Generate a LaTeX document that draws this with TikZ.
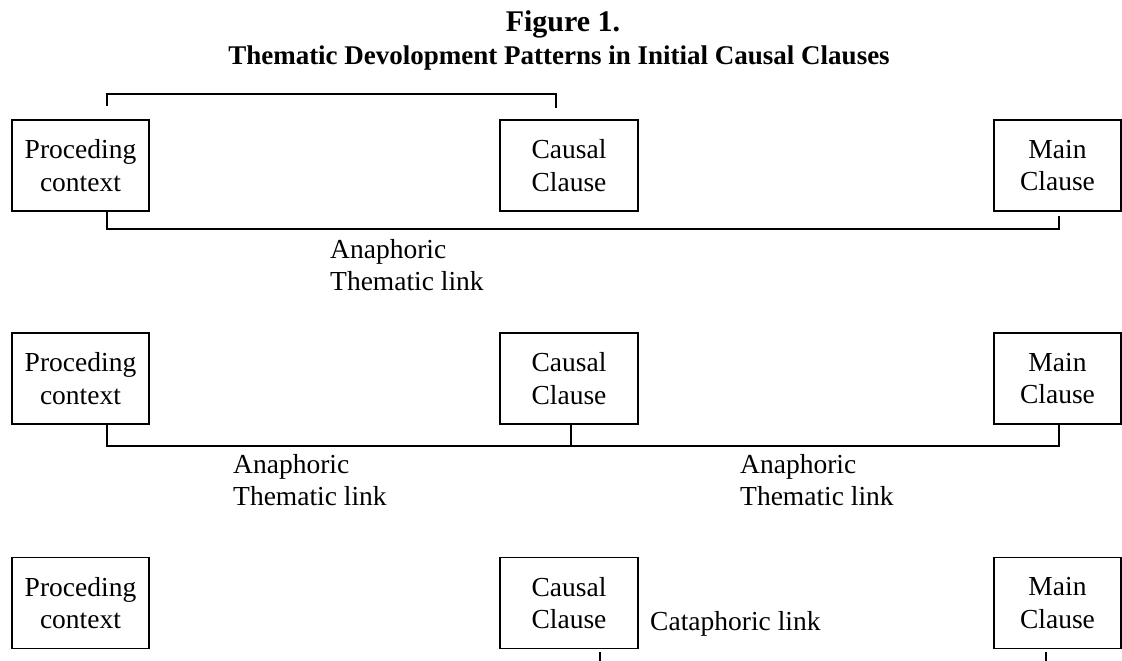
\documentclass[tikz,border=0pt]{standalone}
\usepackage{fontspec}
\setmainfont{Liberation Serif}
\tikzset{
  box/.style={draw, line width=1.8pt, inner sep=0pt, align=center,
    minimum height=91pt, font=\fontsize{27.5}{32.5}\selectfont},
  lbl/.style={inner sep=0pt, align=left, anchor=north west,
    font=\fontsize{27.5}{32}\selectfont},
  ttl/.style={inner sep=0pt, anchor=base, font=\fontsize{27}{32}\selectfont\bfseries},
  link/.style={line width=1.8pt}
}
\begin{document}
\begin{tikzpicture}[x=1pt, y=-1pt]
\useasboundingbox (0,0) rectangle (1122,661);
% title
\node[ttl, font=\fontsize{30}{34}\selectfont\bfseries] (t1) at (563,32) {Figure 1.};
\node[ttl] (t2) at (559,64) {Thematic Devolopment Patterns in Initial Causal Clauses};
% row 1
\node[box, minimum width=137pt] (pa) at (80.5,165.5) {Proceding\\context};
\node[box, minimum width=138pt] (ca) at (569,165.5) {Causal\\Clause};
\node[box, minimum width=127pt] (ma) at (1057.5,165.5) {Main\\Clause};
\draw[link] ([xshift=26.5pt,yshift=13pt]pa.north) -- ++(0,12pt) -| ([xshift=-13pt,yshift=11pt]ca.north);
\draw[link] ([xshift=26.5pt]pa.south) -- ++(0,-17pt) -| ([xshift=1.5pt,yshift=-4pt]ma.south);
\node[lbl] (la) at (330,239) {Anaphoric\\Thematic link};
% row 2
\node[box, minimum width=137pt] (pb) at (80.5,378.5) {Proceding\\context};
\node[box, minimum width=138pt] (cb) at (569,378.5) {Causal\\Clause};
\node[box, minimum width=127pt] (mb) at (1057.5,378.5) {Main\\Clause};
\draw[link] ([xshift=26.5pt]pb.south) -- ++(0,-21pt) -| ([xshift=1.5pt]mb.south);
\draw[link] ([xshift=2pt]cb.south) -- ++(0,-21pt);
\node[lbl] (lb1) at (233,454) {Anaphoric\\Thematic link};
\node[lbl] (lb2) at (740,454) {Anaphoric\\Thematic link};
% row 3
\node[box, minimum width=137pt] (pc) at (80.5,603) {Proceding\\context};
\node[box, minimum width=138pt] (cc) at (569,603) {Causal\\Clause};
\node[box, minimum width=127pt] (mc) at (1057.5,603) {Main\\Clause};
\coordinate (ce) at (600,662);
\coordinate (me) at (1046,662);
\draw[link] ([xshift=31pt,yshift=-3pt]cc.south) -- (ce);
\draw[link] ([xshift=-11.5pt,yshift=-3pt]mc.south) -- (me);
\node[lbl] (lc) at (650,611) {Cataphoric link};
\end{tikzpicture}
\end{document}
